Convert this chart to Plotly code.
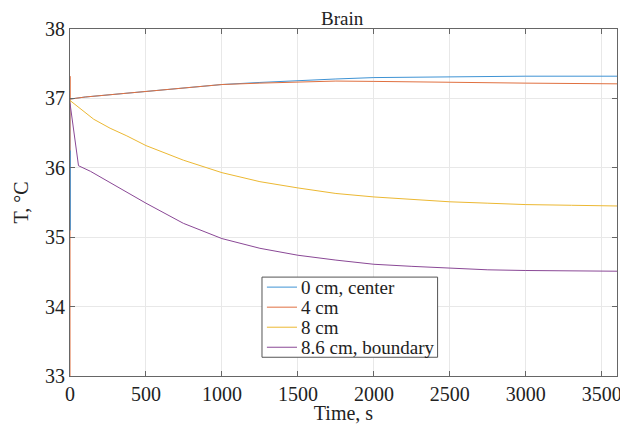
import plotly.graph_objects as go

# ---- data ----
t_center = [0, 0, 0, 100, 200, 300, 500, 750, 1000, 1250, 1500, 1750, 2000, 2500, 3000, 3600]
T_center = [35.10, 36.25, 36.99, 37.02, 37.04, 37.06, 37.11, 37.16, 37.20, 37.23, 37.26, 37.28, 37.30, 37.31, 37.32, 37.32]

t_4cm = [0, 0, 0, 100, 200, 300, 500, 750, 1000, 1250, 1500, 1750, 2000, 2500, 3000, 3600]
T_4cm = [33.00, 37.32, 36.99, 37.02, 37.04, 37.06, 37.11, 37.16, 37.20, 37.22, 37.24, 37.25, 37.245, 37.23, 37.22, 37.21]

t_8cm = [0, 68, 156, 264, 374, 500, 746, 1000, 1250, 1500, 1750, 2000, 2250, 2500, 2750, 3000, 3300, 3600]
T_8cm = [36.97, 36.85, 36.70, 36.57, 36.46, 36.32, 36.11, 35.93, 35.80, 35.71, 35.63, 35.58, 35.54, 35.51, 35.49, 35.47, 35.46, 35.45]

t_bnd = [0, 56, 134, 199, 330, 500, 746, 1000, 1250, 1500, 1750, 2000, 2250, 2500, 2750, 3000, 3300, 3600]
T_bnd = [36.93, 36.03, 35.95, 35.87, 35.71, 35.49, 35.20, 34.98, 34.84, 34.74, 34.67, 34.61, 34.58, 34.55, 34.53, 34.52, 34.51, 34.51]

# initial transient of the center series, visible on top at t=0
t_center_spike = [0, 0]
T_center_spike = [35.10, 36.25]

names = ["0 cm, center", "4 cm", "8 cm", "8.6 cm, boundary"]
colors = ["#3f93d4", "#e07040", "#ecb832", "#8a4896"]

x_ticks = [0, 500, 1000, 1500, 2000, 2500, 3000, 3500]
y_ticks = [33, 34, 35, 36, 37, 38]

FONT = "Liberation Serif"
TXT = "#222222"

fig = go.Figure()
series = [(t_center, T_center), (t_4cm, T_4cm), (t_8cm, T_8cm), (t_bnd, T_bnd)]
for (t, T), n, c in zip(series, names, colors):
    fig.add_trace(go.Scatter(x=t, y=T, mode="lines", name=n, showlegend=False,
                             line=dict(color=c, width=1)))
fig.add_trace(go.Scatter(x=t_center_spike, y=T_center_spike, mode="lines",
                         showlegend=False, line=dict(color=colors[0], width=1.5)))

axis_common = dict(
    showgrid=True, gridcolor="#e8e8e8", gridwidth=1,
    showline=True, linecolor="#666666", linewidth=1, mirror="ticks",
    ticks="inside", ticklen=5, tickcolor="#666666", automargin=False,
    zeroline=False, tickfont=dict(family=FONT, size=20, color=TXT),
)

# ---- legend box (paper coordinates of the plot area) ----
lx0, lx1, ly_top, ly_bot = 0.351, 0.672, 0.285, 0.054
row_h = (ly_top - ly_bot) / 4
shapes = [dict(type="rect", xref="paper", yref="paper", x0=lx0, x1=lx1, y0=ly_bot, y1=ly_top,
               line=dict(color="#555555", width=1), fillcolor="white", layer="above")]
annotations = []
for i, (n, c) in enumerate(zip(names, colors)):
    yc = ly_top - row_h * (i + 0.5)
    shapes.append(dict(type="line", xref="paper", yref="paper", x0=lx0 + 0.009, x1=lx0 + 0.064,
                       y0=yc, y1=yc, line=dict(color=c, width=1), layer="above"))
    annotations.append(dict(text=n, xref="paper", yref="paper", x=lx0 + 0.068, y=yc,
                            xanchor="left", yanchor="middle", showarrow=False,
                            font=dict(family=FONT, size=19, color=TXT)))

# page body has an 8px margin, so the figure is drawn 8px smaller
fig.update_layout(
    width=620, height=416,
    margin=dict(l=62, r=11, t=21, b=48),
    paper_bgcolor="white", plot_bgcolor="white",
    title=dict(text="Brain", x=0.539, xanchor="center", y=0.974, yanchor="middle",
               font=dict(family=FONT, size=19, color=TXT)),
    xaxis=dict(range=[0, 3600], tickvals=x_ticks,
               title=dict(text="Time, s", font=dict(family=FONT, size=20, color=TXT), standoff=0),
               **axis_common),
    yaxis=dict(range=[33, 38], tickvals=y_ticks,
               title=dict(text="T, °C", font=dict(family=FONT, size=20, color=TXT), standoff=11),
               **axis_common),
    shapes=shapes,
    annotations=annotations,
    showlegend=False,
)

fig.write_html("out.html")
